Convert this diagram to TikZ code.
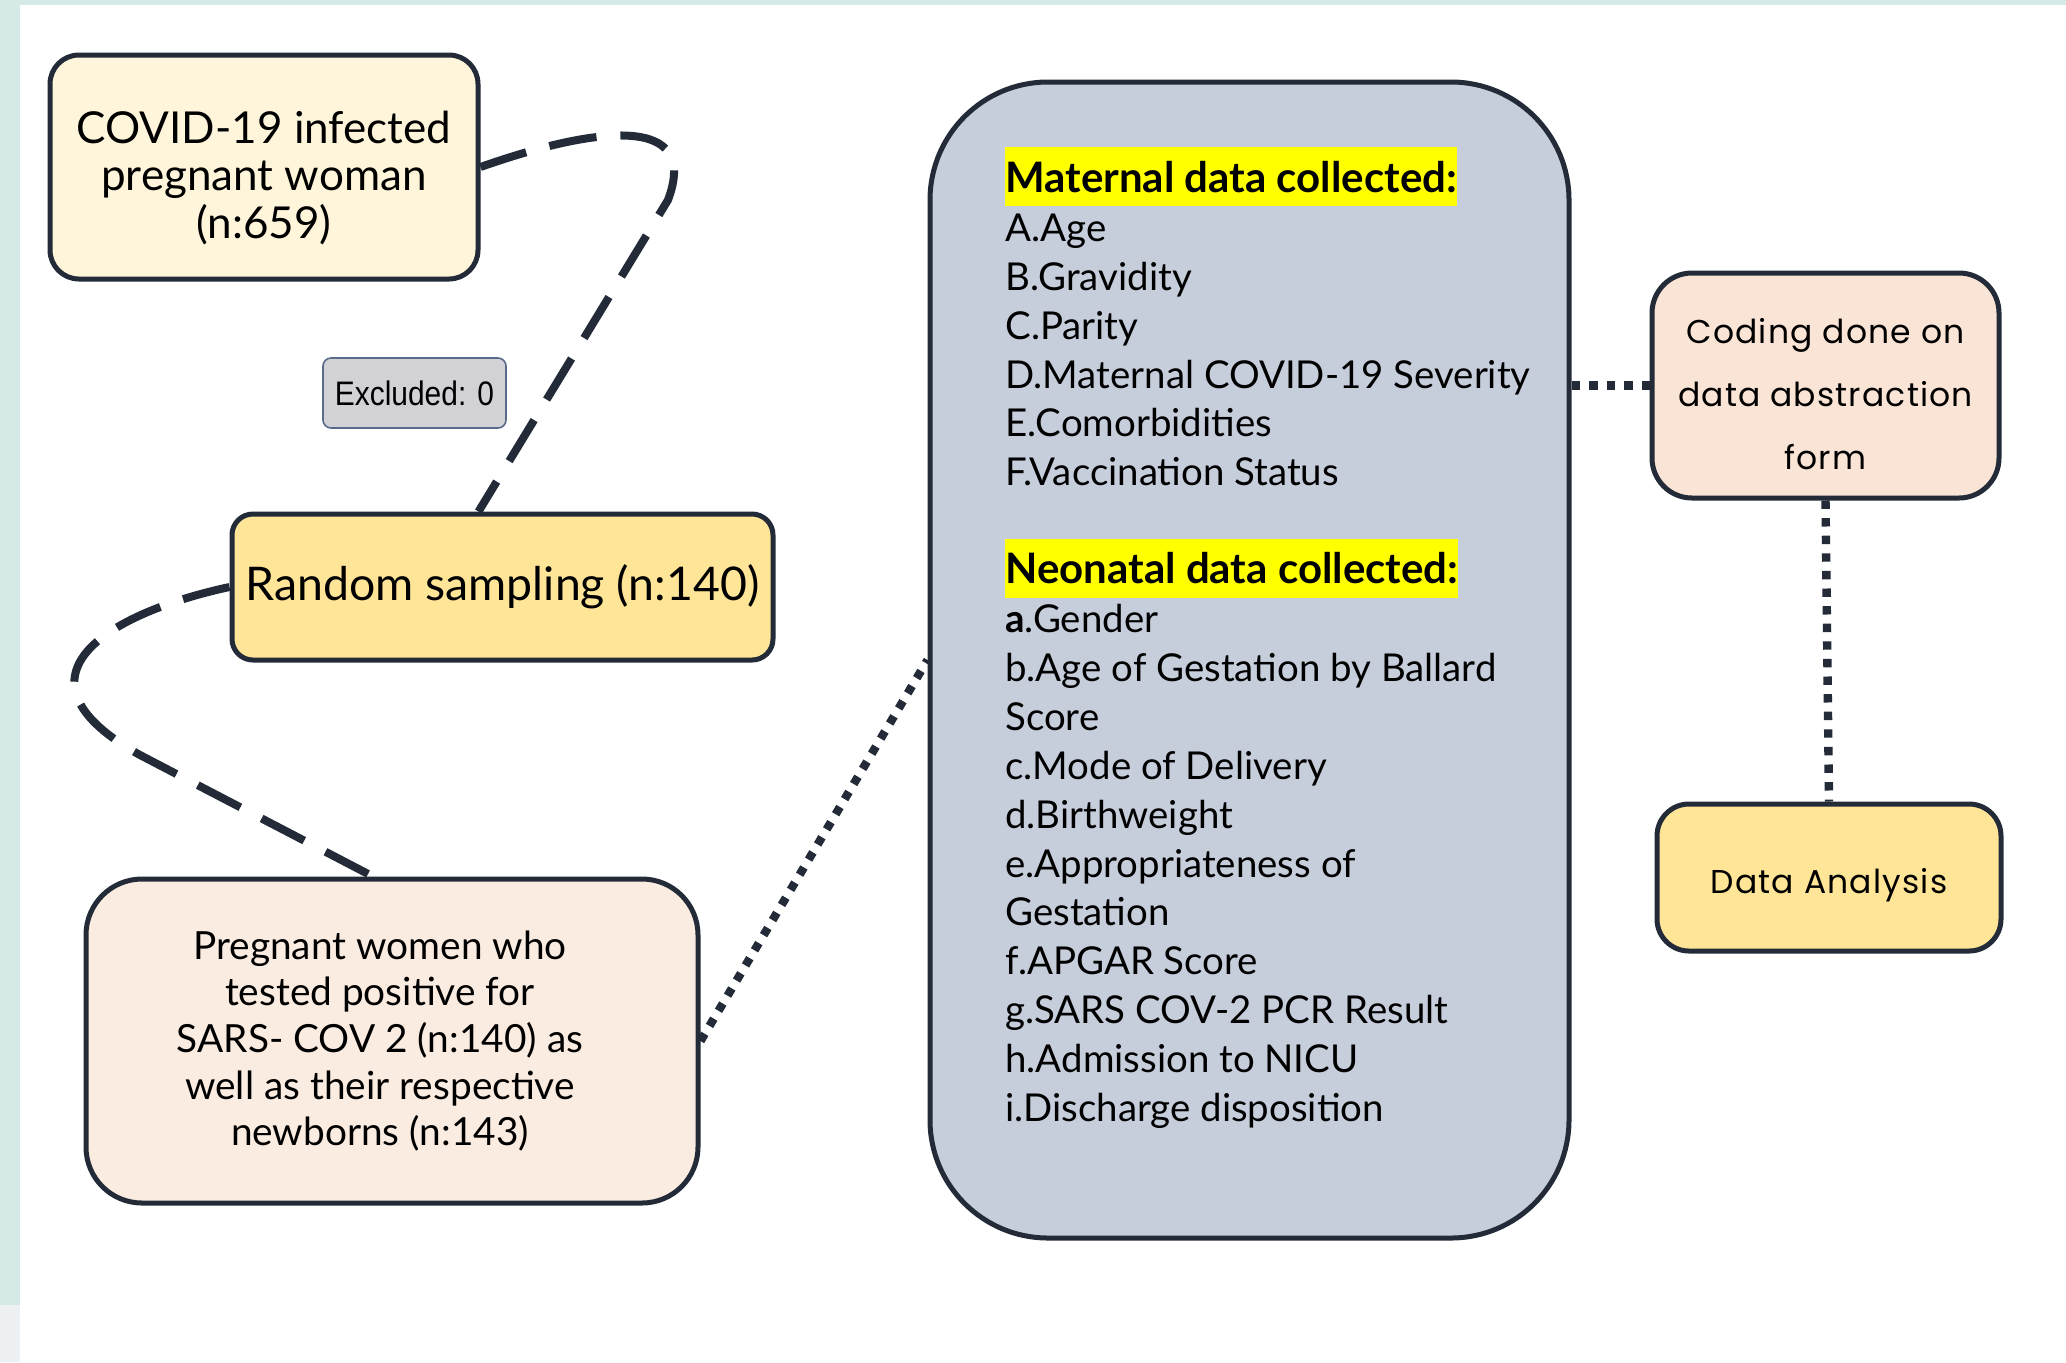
\documentclass[tikz,border=0pt]{standalone}
\usepackage{fontspec}
\setmainfont{Lato}
\newfontfamily\popfont[LetterSpace=3.5]{Poppins}
\newfontfamily\narrowfont{Liberation Sans}
\usetikzlibrary{calc}
\definecolor{edge}{HTML}{232B39}
\definecolor{cA}{HTML}{FEF5DA}
\definecolor{cB}{HTML}{FFE597}
\definecolor{cC}{HTML}{FBECE1}
\definecolor{cD}{HTML}{C6CDDB}
\definecolor{cE}{HTML}{FAE4D6}
\definecolor{exfill}{HTML}{D2D2D6}
\definecolor{exline}{HTML}{5A6A8A}
\definecolor{tealbg}{HTML}{D5E9E6}
\definecolor{greybg}{HTML}{EDF1F4}
\definecolor{hly}{HTML}{FFFF00}
\newcommand{\hlite}[1]{{\setlength{\fboxsep}{0pt}\colorbox{hly}{\rule[-7pt]{0pt}{29.5pt}#1}}}
\begin{document}
\begin{tikzpicture}[x=0.5pt,y=-0.5pt,
  box/.style={draw=edge, line width=2.5pt, align=center, text=black, inner sep=0pt},
  txt/.style={align=center, text=black, inner sep=0pt},
  dashline/.style={draw=edge, line width=4pt, dash pattern=on 24pt off 12pt},
  dotline/.style={draw=edge, line width=4.2pt, dash pattern=on 4.2pt off 4.6pt}]
\useasboundingbox (0,0) rectangle (2066,1362);
\fill[white] (0,0) rectangle (2066,1362);
\fill[tealbg] (0,0) rectangle (20,1305);
\fill[greybg] (0,1305) rectangle (20,1362);
\fill[tealbg] (0,0) rectangle (2066,5);

\node[box, fill=cA, rounded corners=14.5pt, minimum width=214pt, minimum height=112pt] (covid) at (264,167) {};
\node[txt, font=\fontsize{22}{23.7}\selectfont] (covidtxt) at ($(covid.center)+(0,-5.5pt)$)
  {COVID-19 infected\\pregnant woman\\(n:659)};
\node[draw=exline, line width=0.8pt, fill=exfill, rounded corners=4pt, inner sep=0pt,
  minimum width=91.5pt, minimum height=35pt,
  font=\narrowfont\fontsize{17}{20}\selectfont] (excl) at (414.5,393)
  {\scalebox{0.88}[1]{Excluded: 0}};
\node[box, fill=cB, rounded corners=10.5pt, minimum width=270.5pt, minimum height=73pt,
  font=\fontsize{23.2}{26}\selectfont] (rand) at (502.5,587) {Random sampling (n:140)};
\node[box, fill=cC, rounded corners=28pt, minimum width=306pt, minimum height=162pt] (preg) at (392,1041) {};
\node[txt, font=\fontsize{19.4}{23.3}\selectfont] (pregtxt) at ($(preg.center)+(-6pt,0)$)
  {Pregnant women who\\tested positive for\\SARS- COV 2 (n:140) as\\well as their respective\\newborns (n:143)};
\node[box, fill=cD, rounded corners=59pt, minimum width=319.5pt, minimum height=578pt] (big) at (1249.5,660) {};
\node[anchor=north west, inner sep=0pt, align=left, text=black,
  font=\fontsize{19.2}{24.45}\selectfont] (bigtxt) at (1005,192)
  {\smash{\hlite{\fontsize{21}{24.45}\selectfont\bfseries Maternal data collected:}}\\
   A.Age\\
   B.Gravidity\\
   C.Parity\\
   D.Maternal COVID-19 Severity\\
   E.Comorbidities\\
   F.Vaccination Status\\[24.45pt]
   \smash{\hlite{\fontsize{21}{24.45}\selectfont\bfseries Neonatal data collected:}}\\
   \textbf{a}.Gender\\
   b.Age of Gestation by Ballard\\
   Score\\
   c.Mode of Delivery\\
   d.Birthweight\\
   e.Appropriateness of\\
   Gestation\\
   f.APGAR Score\\
   g.SARS COV-2 PCR Result\\
   h.Admission to NICU\\
   i.Discharge disposition};
\node[box, fill=cE, rounded corners=20pt, minimum width=173.5pt, minimum height=112.5pt] (code) at (1825.5,385.5) {};
\node[txt, font=\popfont\fontsize{16.5}{31.7}\selectfont] (codetxt) at ($(code.center)+(0,-4.3pt)$)
  {Coding done on\\data abstraction\\form};
\node[box, fill=cB, rounded corners=16pt, minimum width=172pt, minimum height=73.5pt] (data) at (1829,877.5) {};
\node[txt, font=\popfont\fontsize{16.5}{18}\selectfont] (datatxt) at ($(data.center)+(0,-4pt)$) {Data Analysis};

\draw[dashline] (covid.east) .. controls (600,125) and (700,115) .. (668,200) -- ($(rand.north)+(-12pt,0)$);
\draw[dashline] (rand.west) .. controls (100,615) and (5,680) .. (140,755) -- ($(preg.north)+(-9.5pt,0)$);
\draw[dotline] (preg.east) -- (big.west);
\draw[dotline] (big.east |- code.west) -- (code.west);
\draw[dotline] (code.south) -- (data.north);
\end{tikzpicture}
\end{document}
